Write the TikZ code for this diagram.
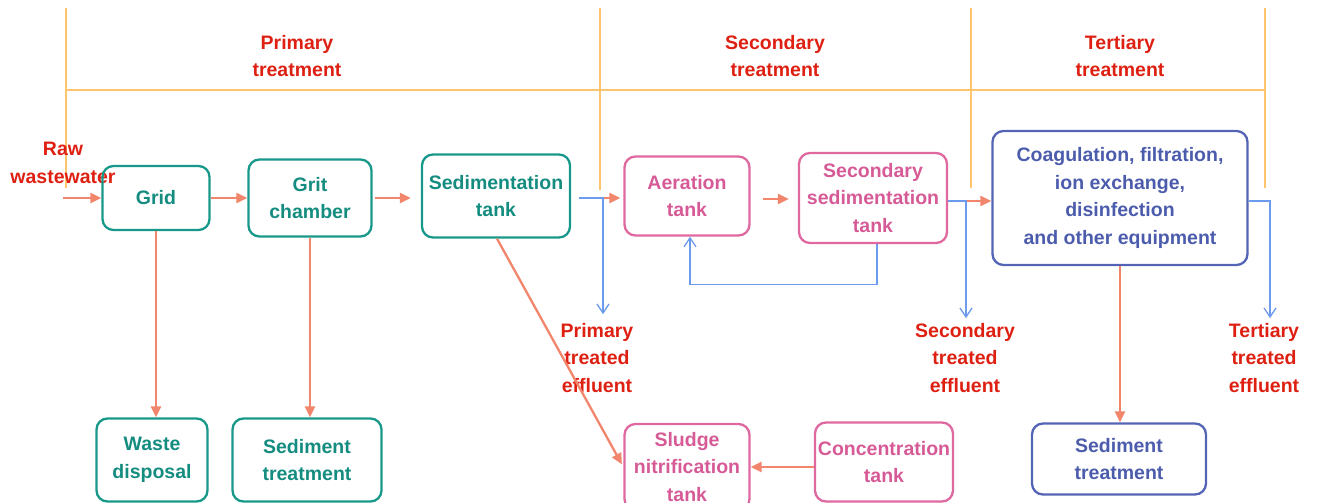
\documentclass[tikz,border=0pt]{standalone}
\usepackage{fontspec}
\setmainfont{Liberation Sans}
\usetikzlibrary{arrows.meta}

\definecolor{tealline}{RGB}{24,152,138}
\definecolor{tealtext}{RGB}{20,140,128}
\definecolor{pinkline}{RGB}{224,104,160}
\definecolor{pinktext}{RGB}{214,90,150}
\definecolor{navyline}{RGB}{84,100,180}
\definecolor{navytext}{RGB}{76,92,172}
\definecolor{stagered}{RGB}{222,32,18}
\definecolor{frameorange}{RGB}{255,196,110}
\definecolor{salmon}{RGB}{241,134,108}
\definecolor{skyblue}{RGB}{108,154,236}

\tikzset{
  box/.style={draw, rounded corners=11pt, line width=2.3pt, align=center, inner sep=1pt},
  tealbox/.style={box, draw=tealline, text=tealtext},
  pinkbox/.style={box, draw=pinkline, text=pinktext},
  navybox/.style={box, draw=navyline, text=navytext},
  label/.style={align=center, text=stagered, inner sep=1pt},
  flow/.style={draw=salmon, line width=2.3pt, -{Triangle[length=11pt,width=10pt]}},
  outflow/.style={draw=skyblue, line width=1.3pt, -{Straight Barb[length=9pt,width=12pt]}},
  frame/.style={draw=frameorange, line width=1.3pt}
}

\begin{document}
\begin{tikzpicture}[x=1pt, y=-1pt, font=\fontsize{19.5}{27.5}\selectfont\bfseries]
  \useasboundingbox (0,0) rectangle (1318,503);

  % stage frame
  \draw[frame] (66,90) -- (1265,90);
  \foreach \x/\y in {66/188, 600/190, 971/188, 1265/188}
    \draw[frame] (\x,8) -- (\x,\y);

  % stage titles
  \node[label] (ptitle) at (297,56) {Primary\\treatment};
  \node[label] (stitle) at (775,56) {Secondary\\treatment};
  \node[label] (ttitle) at (1120,56) {Tertiary\\treatment};

  % main line
  \node[label] (raw) at (63,163) {Raw\\wastewater};
  \node[tealbox, minimum width=107pt, minimum height=64pt] (grid) at (156,198) {Grid};
  \node[tealbox, minimum width=123pt, minimum height=77pt] (grit) at (310,198) {Grit\\chamber};
  \node[tealbox, minimum width=148pt, minimum height=83pt] (sed) at (496,196) {Sedimentation\\tank};
  \node[pinkbox, minimum width=125pt, minimum height=79pt] (aer) at (687,196) {Aeration\\tank};
  \node[pinkbox, minimum width=148pt, minimum height=90pt] (secsed) at (873,198) {Secondary\\sedimentation\\tank};
  \node[navybox, minimum width=255pt, minimum height=134pt] (coag) at (1120,198)
    {Coagulation, filtration,\\ion exchange,\\disinfection\\and other equipment};

  % sludge and residue boxes
  \node[tealbox, minimum width=111pt, minimum height=83pt] (waste) at (152,460) {Waste\\disposal};
  \node[tealbox, minimum width=149pt, minimum height=83pt] (sedtreat) at (307,460) {Sediment\\treatment};
  \node[pinkbox, minimum width=125pt, minimum height=86pt] (sludge) at (687,467) {Sludge\\nitrification\\tank};
  \node[pinkbox, minimum width=138pt, minimum height=79pt] (conc) at (884,462) {Concentration\\tank};
  \node[navybox, minimum width=174pt, minimum height=71pt] (navytreat) at (1119,459) {Sediment\\treatment};

  % effluent labels
  \node[label] (peff) at (597,358) {Primary\\treated\\effluent};
  \node[label] (seff) at (965,358) {Secondary\\treated\\effluent};
  \node[label] (teff) at (1264,358) {Tertiary\\treated\\effluent};

  \coordinate (rawin) at (63,198);
  \coordinate (ptap) at (579,198);
  \coordinate (pdrop) at (603,198);
  \coordinate (sdrop) at (966,201);
  \coordinate (tdrop) at (1270,201);

  % water flow
  \draw[flow] (rawin) -- (grid.west);
  \draw[flow] (grid.east) -- (grit.west);
  \draw[flow] ([xshift=2pt]grit.east) -- ([xshift=-10pt]grit.east -| sed.west);
  \draw[flow] (ptap) -- ([xshift=-3pt]aer.west |- ptap);
  \draw[flow] ([xshift=12pt,yshift=-3pt]aer.east) -- ([xshift=-9pt,yshift=-3pt]aer.east -| secsed.west);
  \draw[flow] ([yshift=-3pt]secsed.east) -- ([yshift=-3pt]secsed.east -| coag.west);

  % solids
  \draw[flow] (grid.south) -- (grid.south |- waste.north);
  \draw[flow] (grit.south) -- (grit.south |- sedtreat.north);
  \draw[flow, shorten >=3pt] ([xshift=1pt]sed.south) -- (sludge.west);
  \draw[flow] (conc.west |- sludge.east) -- (sludge.east);
  \draw[flow] (coag.south) -- (coag.south |- navytreat.north);

  % effluent and return sludge
  \draw[outflow] (ptap) -- (pdrop) -- ([yshift=8pt]pdrop |- peff.north);
  \draw[outflow] ([yshift=-3pt]secsed.east) -- (sdrop) -- ([yshift=4pt]sdrop |- seff.north);
  \draw[outflow] ([yshift=-3pt]coag.east) -- (tdrop) -- ([yshift=4pt]tdrop |- teff.north);
  \draw[outflow] ([xshift=4pt]secsed.south) -- ++(0,40) -| ([xshift=3pt]aer.south);
\end{tikzpicture}
\end{document}
